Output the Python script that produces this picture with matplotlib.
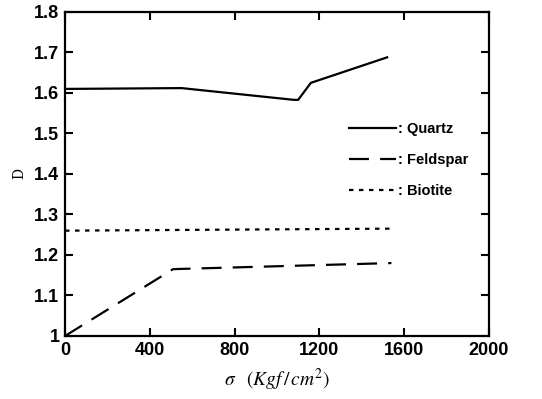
import matplotlib
matplotlib.use("Agg")
import matplotlib.pyplot as plt

plt.rcParams["mathtext.fontset"] = "stix"

# values
quartz_x = [0, 550, 1080, 1100, 1160, 1520]
quartz_y = [1.61, 1.612, 1.583, 1.583, 1.625, 1.688]
feldspar_x = [0, 510, 1540]
feldspar_y = [1.0, 1.165, 1.18]
biotite_x = [0, 1540]
biotite_y = [1.26, 1.265]

xticks = [0, 400, 800, 1200, 1600, 2000]
yticks = [1.0, 1.1, 1.2, 1.3, 1.4, 1.5, 1.6, 1.7, 1.8]
ytick_labels = ["1", "1.1", "1.2", "1.3", "1.4", "1.5", "1.6", "1.7", "1.8"]

fig = plt.figure(figsize=(5.42, 3.99), dpi=100)
ax = fig.add_axes([0.12, 0.158, 0.782, 0.812])

ax.plot(quartz_x, quartz_y, color="black", lw=1.6, label=": Quartz")
ax.plot(feldspar_x, feldspar_y, color="black", lw=1.6, dashes=(9, 5), label=": Feldspar")
ax.plot(biotite_x, biotite_y, color="black", lw=1.6, dashes=(2, 2.5), label=": Biotite")

ax.set_xlim(0, 2000)
ax.set_ylim(1.0, 1.8)
ax.set_xticks(xticks)
ax.set_yticks(yticks)
ax.set_yticklabels(ytick_labels)
ax.tick_params(direction="in", length=6, width=1.5, top=True, right=True,
               labelsize=13, pad=4)
for lab in ax.get_xticklabels() + ax.get_yticklabels():
    lab.set_fontweight("bold")
    lab.set_family("Liberation Sans")
for sp in ax.spines.values():
    sp.set_linewidth(1.6)

ax.set_ylabel("D", family="DejaVu Serif", fontsize=10, labelpad=6)
ax.set_xlabel(r"$\sigma$  $(Kgf\,/\,cm^2)$", fontsize=14, labelpad=6)

leg = ax.legend(loc="upper left", bbox_to_anchor=(0.64, 0.70), frameon=False,
                handlelength=3.2, handletextpad=0.1, labelspacing=1.15,
                prop={"family": "Liberation Sans", "weight": "bold", "size": 10.5})

fig.savefig("out.png", dpi=100)
